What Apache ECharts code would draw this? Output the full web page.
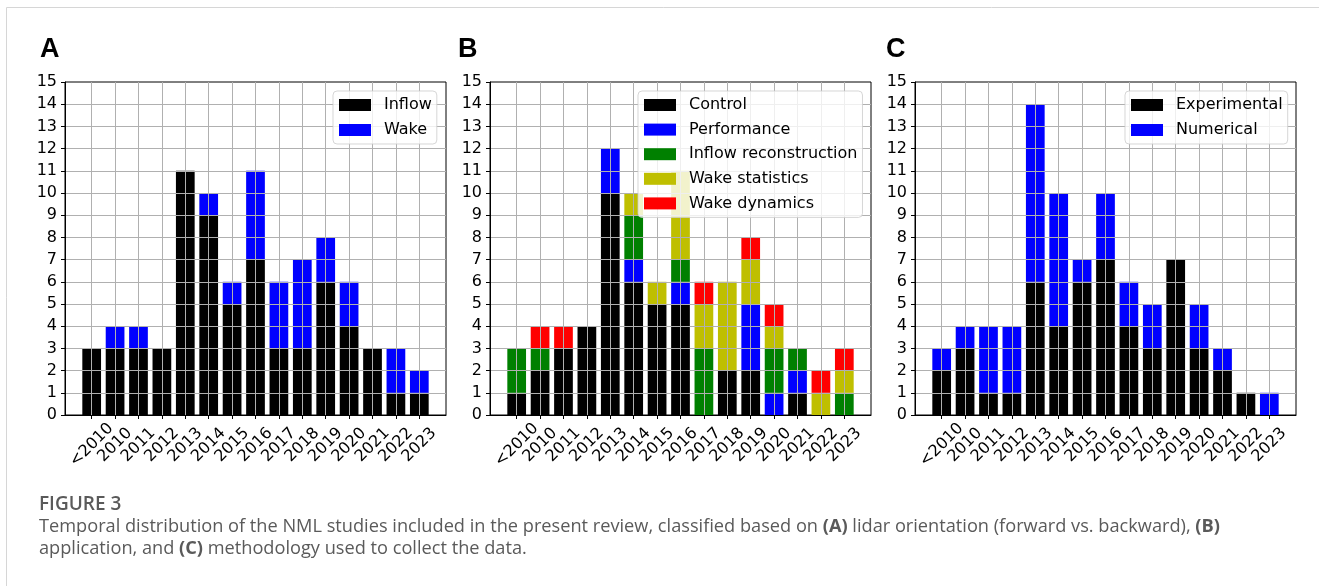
<!DOCTYPE html>
<html>
<head>
<meta charset="utf-8">
<script src="https://cdn.jsdelivr.net/npm/echarts@6/dist/echarts.min.js"></script>
<style>
html,body{margin:0;padding:0;background:#fff;}
#chart{width:1319px;height:586px;}
</style>
</head>
<body>
<div id="chart"></div>
<script>
// ---- data ----
const categories = ['<2010','2010','2011','2012','2013','2014','2015','2016','2017','2018','2019','2020','2021','2022','2023'];
const yMax = 15;
// Panel A
const inflow = [3,3,3,3,11,9,5,7,3,3,6,4,3,1,1];
const wake   = [0,1,1,0,0,1,1,4,3,4,2,2,0,2,1];
// Panel B
const control        = [1,2,3,4,10,6,5,5,0,2,2,0,1,0,0];
const performance    = [0,0,0,0,2,1,0,1,0,0,3,1,1,0,0];
const inflowRecon    = [2,1,0,0,0,2,0,1,3,0,0,2,1,0,1];
const wakeStatistics = [0,0,0,0,0,1,1,4,2,4,2,1,0,1,1];
const wakeDynamics   = [0,1,1,0,0,0,0,0,1,0,1,1,0,1,1];
// Panel C
const experimental = [2,3,1,1,6,4,6,7,4,3,7,3,2,1,0];
const numerical    = [1,1,3,3,8,6,1,3,2,2,0,2,1,0,1];

(function () {
const panels = [
  { letter:'A', series:[['Inflow',inflow,'#000000'],['Wake',wake,'#0000ff']] },
  { letter:'B', series:[['Control',control,'#000000'],['Performance',performance,'#0000ff'],
      ['Inflow reconstruction',inflowRecon,'#008000'],['Wake statistics',wakeStatistics,'#bfbf00'],
      ['Wake dynamics',wakeDynamics,'#ff0000']] },
  { letter:'C', series:[['Experimental',experimental,'#000000'],['Numerical',numerical,'#0000ff']] }
];

// ---- layout ----
const FONT = 'DejaVu Sans';
const frameLefts = [65, 490, 915];
const frameW = 381, plotTop = 82, plotH = 333;
const unit = frameW / 16.28;
const legendLefts = [333, 638, 1125];
const letterX = [40, 458, 886];

const grid = [], xAxis = [], yAxis = [], series = [], legend = [], graphic = [];

graphic.push({type:'rect', silent:true, shape:{x:6.5,y:7.5,width:1400,height:700},
  style:{fill:'none', stroke:'#d6d6d6', lineWidth:1}});

panels.forEach((p, i) => {
  const fl = frameLefts[i];
  const gFrame = grid.length;
  grid.push({left:fl, top:plotTop, width:frameW, height:plotH, show:true, borderColor:'#000', borderWidth:1, backgroundColor:'transparent'});
  const gBar = grid.length;
  grid.push({left:fl + 1.14*unit, top:plotTop, width:14*unit, height:plotH});

  xAxis.push({gridIndex:gFrame, type:'value', min:0, max:1, z:3,
    axisLine:{show:true, lineStyle:{color:'#000', width:1}},
    axisTick:{show:false}, axisLabel:{show:false}, splitLine:{show:false}});
  yAxis.push({gridIndex:gFrame, type:'value', min:0, max:yMax, interval:1, z:3,
    axisLine:{show:true, lineStyle:{color:'#000', width:1}},
    axisTick:{show:true, length:4, lineStyle:{color:'#000'}},
    axisLabel:{fontSize:16, fontFamily:FONT, color:'#000', margin:8},
    splitLine:{show:true, showMaxLine:false, showMinLine:false, lineStyle:{color:'#b0b0b0', width:1}}});

  const xIdx = xAxis.length;
  xAxis.push({gridIndex:gBar, type:'category', data:categories, boundaryGap:false, z:3,
    axisLine:{show:false},
    axisTick:{show:true, inside:false, length:4, interval:0, lineStyle:{color:'#000'}},
    axisLabel:{interval:0, rotate:45, align:'center', verticalAlign:'middle', margin:30,
      fontSize:16, fontFamily:FONT, color:'#000'},
    splitLine:{show:true, interval:0, lineStyle:{color:'#b0b0b0', width:1}}});
  const yIdx = yAxis.length;
  yAxis.push({gridIndex:gBar, type:'value', min:0, max:yMax, show:false});

  p.series.forEach(([name, data, color]) => {
    series.push({type:'bar', name:name, data:data, stack:'s'+i, xAxisIndex:xIdx, yAxisIndex:yIdx,
      barWidth:0.8*unit, clip:false, itemStyle:{color:color}, emphasis:{disabled:true}});
  });

  legend.push({left:legendLefts[i], top:91, orient:'vertical', z:6,
    data:p.series.map(s => s[0]), icon:'rect', itemWidth:32, itemHeight:12,
    itemGap: i===1 ? 8.6 : 9, selectedMode:false,
    padding:[6,5,6,6], backgroundColor:'rgba(255,255,255,0.8)',
    borderColor:'rgba(204,204,204,0.8)', borderWidth:1, borderRadius:4,
    textStyle:{fontSize:16, fontFamily:FONT, color:'#000', padding:[0,0,0,8], lineHeight:16}});

  graphic.push({type:'text', x:letterX[i], y:50, silent:true,
    style:{text:p.letter, fill:'#000', font:'bold 27px "Liberation Sans", Arial, sans-serif',
      align:'left', verticalAlign:'middle'}});
});

const capColor = '#5a5a5a';
graphic.push({type:'text', x:39, y:505, silent:true,
  style:{text:'FIGURE 3', fill:capColor, font:'600 19px "Open Sans", sans-serif', align:'left', verticalAlign:'middle'}});
const richB = {b:{fontWeight:'bold', fontSize:18.2, fontFamily:'Open Sans', fill:capColor, color:capColor}};
graphic.push({type:'text', x:39, y:527, silent:true,
  style:{text:'Temporal distribution of the NML studies included in the present review, classified based on {b|(A)} lidar orientation (forward vs. backward), {b|(B)}',
    fill:capColor, font:'18.2px "Open Sans", sans-serif', align:'left', verticalAlign:'middle', rich:richB}});
graphic.push({type:'text', x:39, y:549, silent:true,
  style:{text:'application, and {b|(C)} methodology used to collect the data.',
    fill:capColor, font:'18.2px "Open Sans", sans-serif', align:'left', verticalAlign:'middle', rich:richB}});

const chart = echarts.init(document.getElementById('chart'), null, {renderer:'canvas'});
chart.setOption({animation:false, backgroundColor:'#fff', grid, xAxis, yAxis, series, legend, graphic});
})();
</script>
</body>
</html>
